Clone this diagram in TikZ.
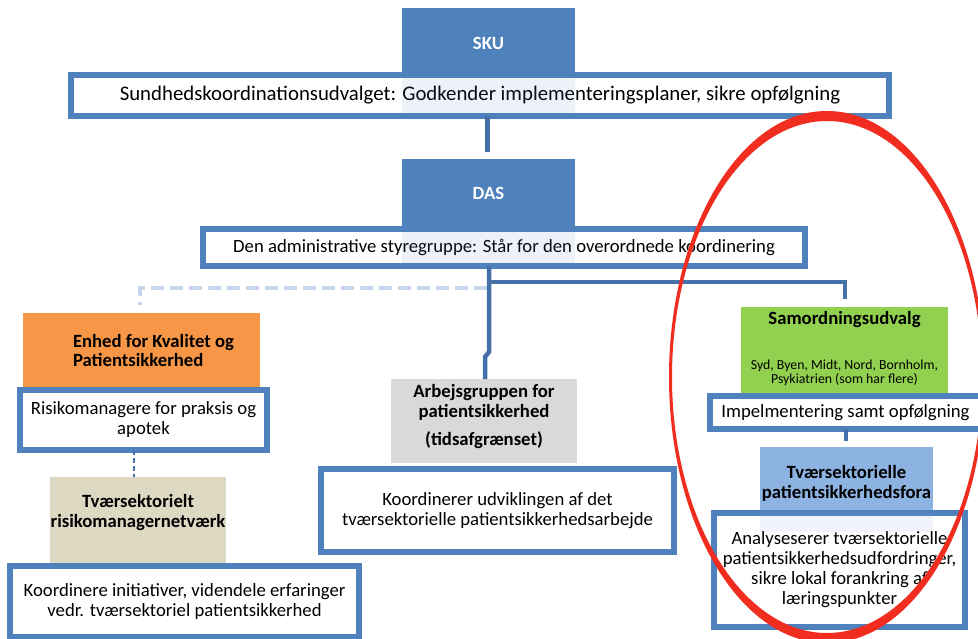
\documentclass[tikz,border=0pt]{standalone}
\usepackage{fontspec}
\setmainfont{Carlito}
\definecolor{bdr}{RGB}{79,129,189}
\definecolor{conn}{RGB}{70,112,168}
\definecolor{dashlight}{RGB}{198,214,238}
\definecolor{orangefill}{RGB}{247,150,70}
\definecolor{beigefill}{RGB}{221,217,195}
\definecolor{greyfill}{RGB}{217,217,217}
\definecolor{greenfill}{RGB}{146,208,80}
\definecolor{lbluefill}{RGB}{141,179,226}
\definecolor{redmark}{RGB}{240,45,30}
\begin{document}
\begin{tikzpicture}[x=1pt,y=-1pt,
  headbox/.style={draw=none,inner sep=0pt,outer sep=0pt},
  textbox/.style={draw=bdr,line width=6pt,fill=white,inner sep=0pt,outer sep=0pt,align=center,
    font=\fontsize{18.7}{20}\selectfont},
  label/.style={inner sep=0pt,outer sep=0pt,align=center,font=\fontsize{18.7}{20}\selectfont\bfseries},
  plainlabel/.style={inner sep=0pt,outer sep=0pt,align=center,font=\fontsize{18.7}{20}\selectfont},
  connline/.style={draw=conn,line width=4.5pt},
]
\useasboundingbox (0,0) rectangle (978,638);
\fill[white] (0,0) rectangle (978,638);

% top level
\node[headbox,fill=bdr,minimum width=173pt,minimum height=64pt] (sku) at (488.5,40) {};
\node[label,text=white] (skut) at (488.5,43) {SKU};
\node[textbox,minimum width=818pt,minimum height=41pt,font=\fontsize{20.8}{22}\selectfont] (sund) at (480,95.5)
  {Sundhedskoordinationsudvalget: Godkender implementeringsplaner, sikre opfølgning};
\fill[bdr,opacity=0.1] (402,78) rectangle (575,113);

\node[headbox,fill=bdr,minimum width=173pt,minimum height=67pt] (das) at (488.5,192.5) {};
\node[label,text=white] (dast) at (488.5,193) {DAS};
\node[textbox,minimum width=602pt,minimum height=37pt] (den) at (504,247.5)
  {Den administrative styregruppe: Står for den overordnede koordinering};
\fill[bdr,opacity=0.1] (402,229) rectangle (575,266);

\coordinate (dastop) at (487.5,152);
\draw[connline] (sund.south -| dastop) -- (dastop);

% left branch
\node[headbox,fill=orangefill,minimum width=237pt,minimum height=74pt] (enhed) at (141.5,350) {};
\node[label,anchor=west,align=left] (enhedt) at (73,350.5) {Enhed for Kvalitet og\\Patientsikkerhed};
\node[textbox,minimum width=247pt,minimum height=60pt] (risiko) at (143.5,420)
  {Risikomanagere for praksis og\\apotek};
\coordinate (dashcorner) at (140,288);
\coordinate (dashend) at (140,305);
\draw[dashlight,line width=4pt,dash pattern=on 13pt off 6pt] (487,288) -- (dashcorner) -- (dashend);

\node[headbox,fill=beigefill,minimum width=176pt,minimum height=86pt] (tvaer) at (138,520) {};
\node[label] (tvaert) at (138,513) {Tværsektorielt\\risikomanagernetværk};
\draw[conn,line width=2pt,dash pattern=on 5pt off 3pt] (risiko.south -| 134,0) -- (tvaer.north -| 134,0);
\node[textbox,minimum width=349pt,minimum height=71pt] (koord) at (184.5,601.5)
  {Koordinere initiativer, videndele erfaringer\\vedr. tværsektoriel patientsikkerhed};

% middle branch
\node[headbox,fill=greyfill,minimum width=186pt,minimum height=84pt] (arbejd) at (484,421) {};
\node[label] (arbejdt) at (484,402) {Arbejsgruppen for\\patientsikkerhed};
\node[label] (tids) at (484,440) {(tidsafgrænset)};
\draw[connline] (den.south -| 489,0) -- (489,352) -- (485,357) -- (arbejd.north -| 485,0);
\node[textbox,minimum width=353pt,minimum height=83pt] (koordr) at (497.5,510.5)
  {Koordinerer udviklingen af det\\tværsektorielle patientsikkerhedsarbejde};

% right branch
\node[headbox,fill=greenfill,minimum width=207pt,minimum height=89pt] (samord) at (844.5,351.5) {};
\node[label] (samordt) at (844.5,320) {Samordningsudvalg};
\node[plainlabel,font=\fontsize{13.8}{14}\selectfont] (samords) at (844.5,373) {Syd, Byen, Midt, Nord, Bornholm,\\Psykiatrien (som har flere)};
\coordinate (samtop) at (845,299);
\draw[connline] (488,282) -- (845,282) -- (samtop);
\node[textbox,minimum width=279pt,minimum height=33pt] (impel) at (849.5,412.5) {};
\node[plainlabel] (impelt) at (845.5,412.5) {Impelmentering samt opfølgning};
\node[headbox,fill=lbluefill,minimum width=173pt,minimum height=63pt] (tvfora) at (846.5,478.5) {};
\node[label] (tvforat) at (846.5,483) {Tværsektorielle\\patientsikkerhedsfora};
\draw[connline] (impel.south -| 846,0) -- (846,441);
\node[textbox,minimum width=251pt,minimum height=114pt] (analys) at (839.5,570)
  {Analyseserer tværsektorielle\\patientsikkerhedsudfordringer,\\sikre lokal forankring af\\læringspunkter};
\fill[lbluefill,opacity=0.12] (760,513) rectangle (933,532);

% red mark
\fill[redmark,even odd rule] (827,377) ellipse [x radius=158pt, y radius=266pt]
  (827,377) ellipse [x radius=155pt, y radius=256pt];
\end{tikzpicture}
\end{document}
